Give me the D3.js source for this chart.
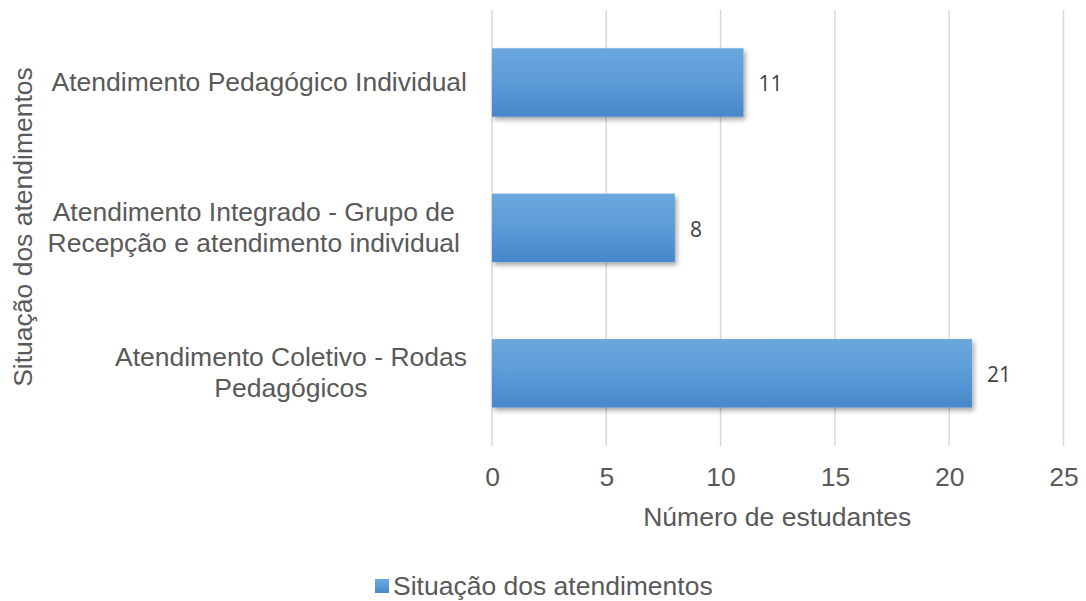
<!DOCTYPE html>
<html><head><meta charset="utf-8">
<script src="https://cdn.jsdelivr.net/npm/d3@7"></script>
<style>body{margin:0;background:#fff}svg{display:block}</style>
</head><body>
<script>
const categories = [
  ["Atendimento Pedagógico Individual"],
  ["Atendimento Integrado - Grupo de", "Recepção e atendimento individual"],
  ["Atendimento Coletivo - Rodas", "Pedagógicos"]
];
const values = [11, 8, 21];
const xTicks = [0, 5, 10, 15, 20, 25];
const seriesName = "Situação dos atendimentos";
const xTitle = "Número de estudantes";
const yTitle = "Situação dos atendimentos";

const W = 1086, H = 601;
const svg = d3.select("body").append("svg").attr("width", W).attr("height", H);
const font = "'Liberation Sans', Arial, sans-serif";
const fs = 26.5;
const defs = svg.append("defs");
const grad = defs.append("linearGradient").attr("id","bg").attr("x1",0).attr("y1",0).attr("x2",0).attr("y2",1);
grad.append("stop").attr("offset","0%").attr("stop-color","#6ca7de");
grad.append("stop").attr("offset","50%").attr("stop-color","#5b9bd8");
grad.append("stop").attr("offset","100%").attr("stop-color","#4787c9");
const f = defs.append("filter").attr("id","sh").attr("x","-5%").attr("y","-20%").attr("width","115%").attr("height","150%");
f.append("feDropShadow").attr("dx",2).attr("dy",3).attr("stdDeviation",2.5).attr("flood-color","#000").attr("flood-opacity",0.35);

const x = d3.scaleLinear().domain([0, 25]).range([492, 1063.5]);
const y = d3.scaleBand().domain(d3.range(categories.length)).range([9.8, 446]).paddingInner(0.529).paddingOuter(0.2645);

// gridlines
svg.append("g").selectAll("line").data(xTicks).join("line")
  .attr("x1", d => x(d)).attr("x2", d => x(d))
  .attr("y1", 10).attr("y2", 446)
  .attr("stroke", "#d9d9d9").attr("stroke-width", 1.5);

// bars
svg.append("g").selectAll("rect").data(values).join("rect")
  .attr("x", x(0)).attr("y", (d,i) => y(i))
  .attr("width", d => x(d) - x(0)).attr("height", y.bandwidth())
  .attr("fill", "url(#bg)").attr("filter", "url(#sh)");

// data labels
svg.append("g").selectAll("text").data(values).join("text")
  .attr("x", d => x(d) + 15).attr("y", (d,i) => y(i) + y.bandwidth()/2 + 8.7)
  .attr("font-family", "'Open Sans', 'Liberation Sans', sans-serif").attr("font-size", 21)
  .attr("fill", "#404040").text(d => d);

// x axis ticks
const xa = svg.append("g").attr("transform", "translate(0,446)")
  .call(d3.axisBottom(x).tickValues(xTicks).tickSize(0).tickPadding(21).tickFormat(d3.format("d")));
xa.select(".domain").remove();
xa.selectAll("text").attr("font-family", font).attr("font-size", fs).attr("fill", "#595959");

// category labels
const catG = svg.append("g");
categories.forEach((lines, i) => {
  const cy = y(i) + y.bandwidth()/2;
  const lh = 31;
  const g = catG.append("g");
  const texts = lines.map((t, k) => g.append("text")
    .attr("y", cy + 8.5 + (k - (lines.length-1)/2) * lh)
    .attr("font-family", font).attr("font-size", fs).attr("fill", "#595959")
    .attr("text-anchor", "middle").text(t));
  const maxW = d3.max(texts, t => t.node().getComputedTextLength());
  const right = i === 1 ? 460 : 467;
  texts.forEach(t => t.attr("x", right - maxW/2));
});

// axis titles
svg.append("text").attr("x", (492+1063.5)/2 - 0.5).attr("y", 526)
  .attr("text-anchor", "middle").attr("font-family", font).attr("font-size", fs)
  .attr("fill", "#595959").text(xTitle);
svg.append("text").attr("transform", "translate(32,227) rotate(-90)")
  .attr("text-anchor", "middle").attr("font-family", font).attr("font-size", fs)
  .attr("fill", "#595959").text(yTitle);

// legend
const lg = svg.append("g");
lg.append("rect").attr("x", 375).attr("y", 579).attr("width", 14).attr("height", 14).attr("fill", "url(#bg)");
lg.append("text").attr("x", 393).attr("y", 595).attr("font-family", font).attr("font-size", fs)
  .attr("fill", "#595959").text(seriesName);
</script>
</body></html>
